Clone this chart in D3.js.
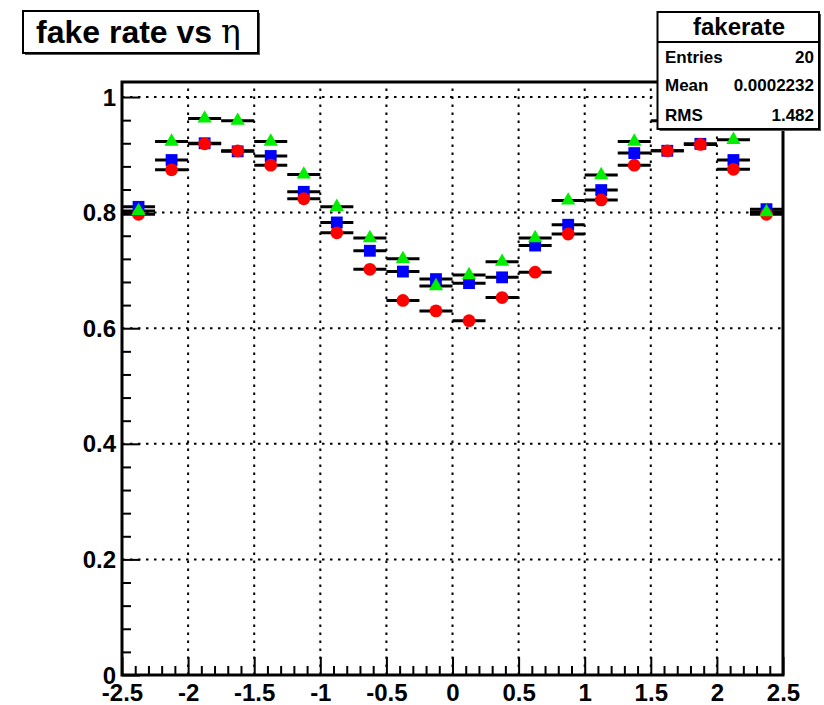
<!DOCTYPE html>
<html>
<head>
<meta charset="utf-8">
<script src="https://cdn.jsdelivr.net/npm/d3@7"></script>
<style>
  html, body { margin: 0; padding: 0; background: #fff; }
  svg { display: block; }
  text { font-family: "Liberation Sans", Arial, Helvetica, sans-serif; }
</style>
</head>
<body>
<svg id="chart" width="824" height="705"></svg>
<script>
// eta bin centres (bin width 0.25 over -2.5 .. 2.5)
const etaCenters = [-2.375, -2.125, -1.875, -1.625, -1.375, -1.125, -0.875, -0.625, -0.375, -0.125,
                     0.125,  0.375,  0.625,  0.875,  1.125,  1.375,  1.625,  1.875,  2.125,  2.375];
const binHalfWidth = 0.125;

// fake rate per eta bin, three selections
const blueRate  = [0.810, 0.891, 0.920, 0.906, 0.898, 0.836, 0.783, 0.734, 0.698, 0.685,
                   0.678, 0.688, 0.743, 0.779, 0.839, 0.903, 0.907, 0.919, 0.891, 0.806];
const redRate   = [0.797, 0.874, 0.919, 0.907, 0.882, 0.824, 0.765, 0.702, 0.648, 0.630,
                   0.613, 0.653, 0.697, 0.763, 0.822, 0.882, 0.907, 0.918, 0.875, 0.797];
const greenRate = [0.803, 0.923, 0.963, 0.959, 0.923, 0.866, 0.810, 0.756, 0.720, 0.673,
                   0.692, 0.715, 0.756, 0.821, 0.865, 0.923, 0.959, 0.962, 0.926, 0.801];

// axis ticks
const xMajorTicks = [-2.5, -2, -1.5, -1, -0.5, 0, 0.5, 1, 1.5, 2, 2.5];
const xTickLabels = ["-2.5", "-2", "-1.5", "-1", "-0.5", "0", "0.5", "1", "1.5", "2", "2.5"];
const yMajorTicks = [0, 0.2, 0.4, 0.6, 0.8, 1];
const yTickLabels = ["0", "0.2", "0.4", "0.6", "0.8", "1"];

// statistics box
const statsTitle = "fakerate";
const statsNames  = ["Entries", "Mean", "RMS"];
const statsValues = ["20", "0.0002232", "1.482"];

const titleText = "fake rate vs ";
const titleSymbol = "\u03b7";

const svg = d3.select("#chart");
const frame = { left: 122, right: 783, top: 82, bottom: 675 };
const yMax = 1.026;

const x = d3.scaleLinear().domain([-2.5, 2.5]).range([frame.left, frame.right]);
const y = d3.scaleLinear().domain([0, yMax]).range([frame.bottom, frame.top]);

// dotted grid
const grid = svg.append("g").attr("class", "grid")
  .attr("stroke", "#000").attr("stroke-width", 2).attr("stroke-dasharray", "2.5,5.5");
grid.selectAll("line.gx").data(xMajorTicks.slice(1, -1)).join("line")
  .attr("x1", d => x(d)).attr("x2", d => x(d))
  .attr("y1", frame.bottom).attr("y2", frame.top);
grid.selectAll("line.gy").data(yMajorTicks.slice(1)).join("line")
  .attr("y1", d => y(d)).attr("y2", d => y(d))
  .attr("x1", frame.left).attr("x2", frame.right);

// minor tick positions
const xMinor = d3.range(-2.5, 2.5001, 0.1).map(v => +v.toFixed(2))
  .filter(v => !xMajorTicks.some(m => Math.abs(m - v) < 1e-6));
const yMinor = d3.range(0, yMax, 0.04).map(v => +v.toFixed(2))
  .filter(v => !yMajorTicks.some(m => Math.abs(m - v) < 1e-6));

// axes: ticks drawn inward
function styleAxis(g) {
  g.select(".domain").remove();
  g.selectAll(".tick line").attr("stroke", "#000").attr("stroke-width", 2);
}
svg.append("g").attr("transform", `translate(0,${frame.bottom})`)
  .call(d3.axisBottom(x).tickValues(xMinor).tickSize(-9).tickFormat(""))
  .call(styleAxis);
svg.append("g").attr("transform", `translate(0,${frame.bottom})`)
  .call(d3.axisBottom(x).tickValues(xMajorTicks).tickSize(-18).tickPadding(8)
        .tickFormat((d, i) => xTickLabels[i]))
  .call(styleAxis)
  .call(g => g.selectAll(".tick text")
    .attr("y", 26).attr("dy", 0)
    .attr("font-size", 24).attr("font-weight", "bold").attr("fill", "#000")
    .attr("font-family", "'Liberation Sans', Arial, sans-serif"));

svg.append("g").attr("transform", `translate(${frame.left},0)`)
  .call(d3.axisLeft(y).tickValues(yMinor).tickSize(-9).tickFormat(""))
  .call(styleAxis);
svg.append("g").attr("transform", `translate(${frame.left},0)`)
  .call(d3.axisLeft(y).tickValues(yMajorTicks).tickSize(-18)
        .tickFormat((d, i) => yTickLabels[i]))
  .call(styleAxis)
  .call(g => g.selectAll(".tick text")
    .attr("x", -6).attr("dy", "0.34em")
    .attr("font-size", 24).attr("font-weight", "bold").attr("fill", "#000")
    .attr("font-family", "'Liberation Sans', Arial, sans-serif"));

// frame
svg.append("rect")
  .attr("x", frame.left).attr("y", frame.top)
  .attr("width", frame.right - frame.left).attr("height", frame.bottom - frame.top)
  .attr("fill", "none").attr("stroke", "#000").attr("stroke-width", 3);

// series: horizontal bin-width error bars with markers
const series = [
  { values: blueRate,  color: "#0000ff", symbol: d3.symbolSquare,   size: 140 },
  { values: redRate,   color: "#ff0000", symbol: d3.symbolCircle,   size: 128 },
  { values: greenRate, color: "#00ee00", symbol: d3.symbolTriangle, size: 88 }
];

series.forEach(s => {
  svg.append("g").selectAll("line").data(s.values).join("line")
    .attr("x1", (d, i) => x(etaCenters[i] - binHalfWidth))
    .attr("x2", (d, i) => x(etaCenters[i] + binHalfWidth))
    .attr("y1", d => y(d)).attr("y2", d => y(d))
    .attr("stroke", "#000").attr("stroke-width", 3);
});
series.forEach(s => {
  svg.append("g").selectAll("path").data(s.values).join("path")
    .attr("d", d3.symbol().type(s.symbol).size(s.size))
    .attr("transform", (d, i) => `translate(${x(etaCenters[i])},${y(d)})`)
    .attr("fill", s.color);
});

// title box
const title = svg.append("g");
title.append("rect").attr("x", 25).attr("y", 13).attr("width", 235).attr("height", 42)
  .attr("fill", "#555");
title.append("rect").attr("x", 23).attr("y", 11).attr("width", 235).attr("height", 42)
  .attr("fill", "#fff").attr("stroke", "#000").attr("stroke-width", 2);
const tt = title.append("text").attr("x", 36).attr("y", 43)
  .attr("font-size", 32).attr("font-weight", "bold").attr("fill", "#000")
  .text(titleText);
tt.append("tspan").attr("font-weight", "normal").attr("font-family", "'DejaVu Serif', serif")
  .attr("font-size", 33).text(titleSymbol);

// statistics box
const stats = svg.append("g");
const sb = { x: 657.5, y: 12, w: 161.5, h: 117 };
stats.append("rect").attr("x", sb.x + 2).attr("y", sb.y + 2).attr("width", sb.w).attr("height", sb.h)
  .attr("fill", "#555");
stats.append("rect").attr("x", sb.x).attr("y", sb.y).attr("width", sb.w).attr("height", sb.h)
  .attr("fill", "#fff").attr("stroke", "#000").attr("stroke-width", 2);
stats.append("line").attr("x1", sb.x).attr("x2", sb.x + sb.w).attr("y1", 42).attr("y2", 42)
  .attr("stroke", "#000").attr("stroke-width", 2);
stats.append("text").attr("x", 739).attr("y", 35).attr("text-anchor", "middle")
  .attr("font-size", 24).attr("font-weight", "bold").attr("fill", "#000").text(statsTitle);
const rowY = [63, 91, 121];
stats.selectAll("text.name").data(statsNames).join("text")
  .attr("class", "name").attr("x", 665).attr("y", (d, i) => rowY[i])
  .attr("font-size", 17).attr("font-weight", "bold").attr("fill", "#000").text(d => d);
stats.selectAll("text.val").data(statsValues).join("text")
  .attr("class", "val").attr("x", 814).attr("y", (d, i) => rowY[i])
  .attr("text-anchor", "end").attr("font-size", 17).attr("font-weight", "bold")
  .attr("fill", "#000").text(d => d);
</script>
</body>
</html>
